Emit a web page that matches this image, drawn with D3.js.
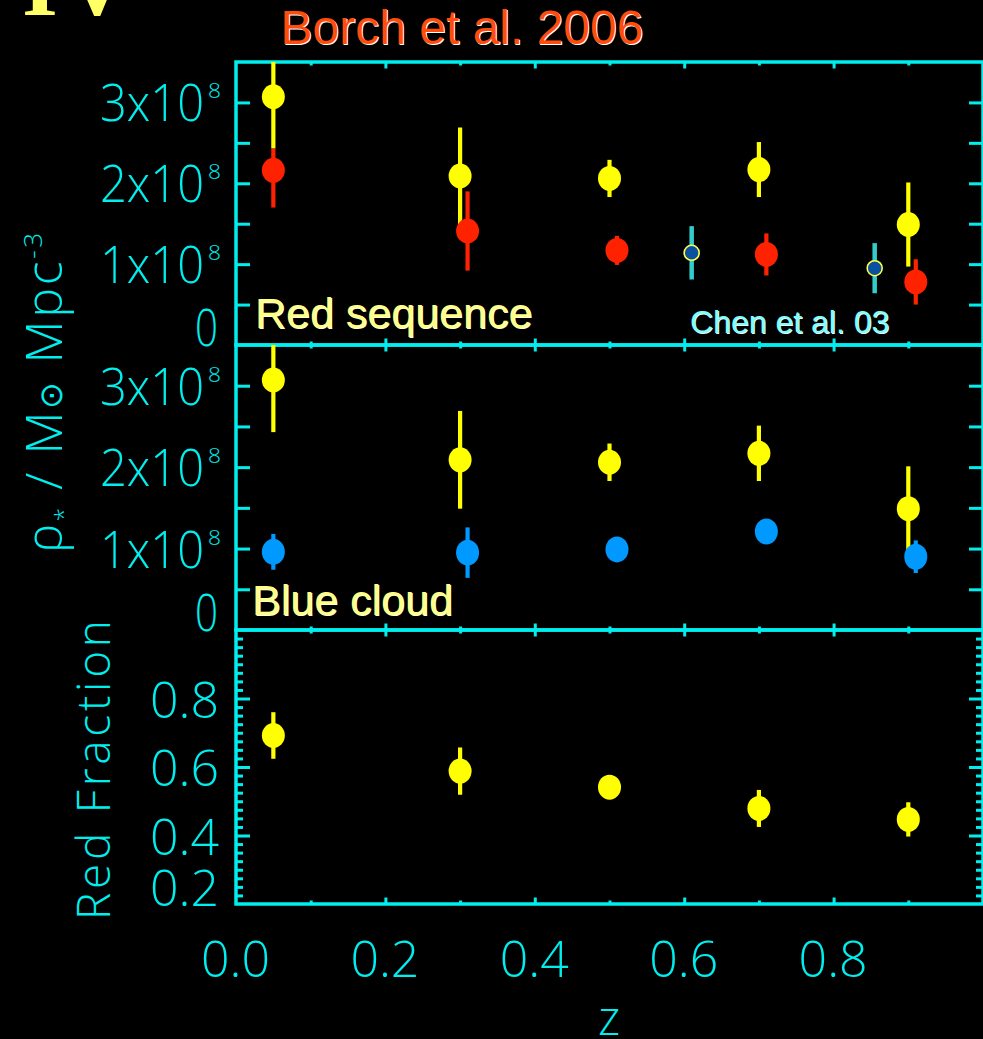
<!DOCTYPE html>
<html>
<head>
<meta charset="utf-8">
<script src="https://cdn.jsdelivr.net/npm/d3@7"></script>
<style>
  body { margin: 0; background: #000; }
  svg { display: block; background: #000; }
</style>
</head>
<body>
<svg id="chart" width="983" height="1039"></svg>
<script>
// ---- data (stellar mass density in units of 1e8 Msun/Mpc^3) ----
const zAll = [0.05, 0.3, 0.5, 0.7, 0.9];
const rhoAll = [3.07, 2.09, 2.06, 2.17, 1.49];
const rhoAllErr = [0.64, 0.60, 0.23, 0.34, 0.52];

const zRed = [0.05, 0.31, 0.51, 0.71, 0.91];
const rhoRed = [2.16, 1.41, 1.17, 1.12, 0.78];
const rhoRedErrLo = [0.46, 0.49, 0.18, 0.26, 0.28];
const rhoRedErrHi = [0.27, 0.49, 0.18, 0.26, 0.28];

const zBlue = [0.05, 0.31, 0.51, 0.71, 0.91];
const rhoBlue = [0.96, 0.95, 0.99, 1.21, 0.90];
const rhoBlueErr = [0.22, 0.31, 0.08, 0.10, 0.20];

const zChen = [0.61, 0.855];
const rhoChen = [1.14, 0.95];
const rhoChenErr = [0.33, 0.31];

const zFrac = [0.05, 0.3, 0.5, 0.7, 0.9];
const redFrac = [0.692, 0.588, 0.541, 0.479, 0.447];
const redFracErr = [0.068, 0.069, 0.02, 0.054, 0.05];

const rhoTickLabels = [0, 1, 2, 3];
const fracTickLabels = [0.2, 0.4, 0.6, 0.8];
const zTickLabels = [0, 0.2, 0.4, 0.6, 0.8];

// ---- setup ----
const CYAN = '#00eeee';
const YELLOW = '#ffff00';
const RED = '#ff2200';
const BLUE = '#0099ff';
const TICKFONT = '"Open Sans", "DejaVu Sans", sans-serif';
const ANNOFONT = '"Liberation Sans", Arial, sans-serif';

const svg = d3.select('#chart');

const x = d3.scaleLinear().domain([0, 1]).range([236, 983]);
const yTop = d3.scaleLinear().domain([0, 3.5]).range([345, 62]);
const yMid = d3.scaleLinear().domain([0, 3.5]).range([630, 345]);
const yBot = d3.scaleLinear().domain([0.2, 1.0]).range([904, 630]);

const panels = [
  { id: 'top', y: yTop, majors: d3.range(0.5, 3.5, 0.5), minors: [], majLen: 14 },
  { id: 'mid', y: yMid, majors: d3.range(0.5, 3.5, 0.5), minors: [], majLen: 14 },
  { id: 'bot', y: yBot, majors: [0.4, 0.6, 0.8], minors: d3.range(0.225, 1.0, 0.025).filter(v => Math.abs(v * 5 - Math.round(v * 5)) > 0.01), majLen: 14 }
];

const defs = svg.append('defs');

function styleTicks(g) {
  g.select('.domain').remove();
  g.selectAll('text').remove();
  g.selectAll('line').attr('stroke', CYAN).attr('stroke-width', 3);
}

panels.forEach(p => {
  const [yb, yt] = p.y.range();
  defs.append('clipPath').attr('id', 'clip-' + p.id)
    .append('rect').attr('x', x(0)).attr('y', yt).attr('width', x(1) - x(0)).attr('height', yb - yt);

  const g = svg.append('g').attr('class', 'frame-' + p.id);
  // y ticks, left and right, pointing inward
  g.append('g').attr('transform', `translate(${x(0)},0)`)
    .call(d3.axisLeft(p.y).tickValues(p.majors).tickSizeInner(-p.majLen).tickSizeOuter(0))
    .call(styleTicks);
  g.append('g').attr('transform', `translate(${x(1)},0)`)
    .call(d3.axisRight(p.y).tickValues(p.majors).tickSizeInner(-p.majLen).tickSizeOuter(0))
    .call(styleTicks);
  if (p.minors.length) {
    g.append('g').attr('transform', `translate(${x(0)},0)`)
      .call(d3.axisLeft(p.y).tickValues(p.minors).tickSizeInner(-7).tickSizeOuter(0))
      .call(styleTicks);
    g.append('g').attr('transform', `translate(${x(1)},0)`)
      .call(d3.axisRight(p.y).tickValues(p.minors).tickSizeInner(-7).tickSizeOuter(0))
      .call(styleTicks);
  }
  // x ticks on top and bottom edge of each panel
  const zMaj = [0.2, 0.4, 0.6, 0.8];
  const zMin = [0.1, 0.3, 0.5, 0.7, 0.9];
  [[zMaj, 6.5], [zMin, 3.5]].forEach(([vals, len]) => {
    g.append('g').attr('transform', `translate(0,${yb})`)
      .call(d3.axisBottom(x).tickValues(vals).tickSizeInner(-len).tickSizeOuter(0))
      .call(styleTicks);
    g.append('g').attr('transform', `translate(0,${yt})`)
      .call(d3.axisTop(x).tickValues(vals).tickSizeInner(-len).tickSizeOuter(0))
      .call(styleTicks);
  });
  g.append('rect')
    .attr('x', x(0)).attr('y', yt).attr('width', x(1) - x(0)).attr('height', yb - yt)
    .attr('fill', 'none').attr('stroke', CYAN).attr('stroke-width', 3.5);
});

// ---- data marks ----
function errorSeries(panelId, yScale, xs, ys, lo, hi, color, rx, ry) {
  const data = xs.map((z, i) => ({ z, v: ys[i], lo: ys[i] - lo[i], hi: ys[i] + hi[i] }));
  const g = svg.append('g').attr('clip-path', `url(#clip-${panelId})`);
  g.selectAll('line').data(data).enter().append('line')
    .attr('x1', d => x(d.z)).attr('x2', d => x(d.z))
    .attr('y1', d => yScale(d.lo)).attr('y2', d => yScale(d.hi))
    .attr('stroke', color).attr('stroke-width', 4.2);
  g.selectAll('ellipse').data(data).enter().append('ellipse')
    .attr('cx', d => x(d.z)).attr('cy', d => yScale(d.v))
    .attr('rx', rx).attr('ry', ry).attr('fill', color);
  return g;
}

// red sequence panel
errorSeries('top', yTop, zAll, rhoAll, rhoAllErr, rhoAllErr, YELLOW, 11.5, 12.5);
errorSeries('top', yTop, zRed, rhoRed, rhoRedErrLo, rhoRedErrHi, RED, 11.5, 12.5);
const chen = svg.append('g').attr('clip-path', 'url(#clip-top)');
const chenData = zChen.map((z, i) => ({ z, v: rhoChen[i], e: rhoChenErr[i] }));
chen.selectAll('line').data(chenData).enter().append('line')
  .attr('x1', d => x(d.z)).attr('x2', d => x(d.z))
  .attr('y1', d => yTop(d.v - d.e)).attr('y2', d => yTop(d.v + d.e))
  .attr('stroke', '#33cccc').attr('stroke-width', 4.5);
chen.selectAll('circle').data(chenData).enter().append('circle')
  .attr('cx', d => x(d.z)).attr('cy', d => yTop(d.v)).attr('r', 7.5)
  .attr('fill', '#0a50a0').attr('stroke', '#ffff44').attr('stroke-width', 1.6);

// blue cloud panel
errorSeries('mid', yMid, zAll, rhoAll, rhoAllErr, rhoAllErr, YELLOW, 11.5, 12.5);
errorSeries('mid', yMid, zBlue, rhoBlue, rhoBlueErr, rhoBlueErr, BLUE, 11.5, 13);

// red fraction panel
errorSeries('bot', yBot, zFrac, redFrac, redFracErr, redFracErr, YELLOW, 11.5, 12.5);

// ---- tick labels ----
function label(x0, y0, str, size, len) {
  return svg.append('text')
    .attr('x', x0).attr('y', y0)
    .attr('font-family', TICKFONT).attr('font-weight', 300)
    .attr('font-size', size).attr('fill', CYAN)
    .attr('textLength', len).attr('lengthAdjust', 'spacingAndGlyphs')
    .text(str);
}

[yTop, yMid].forEach(y => {
  rhoTickLabels.forEach(v => {
    if (v === 0) {
      label(195, y(0) + 1, '0', 51, 23);
    } else {
      label(100, y(v) + 19, v + 'x10', 52, 104);
      label(208, y(v) - 4, '8', 21, 13);
    }
  });
});

fracTickLabels.forEach(v => {
  const base = v === 0.2 ? yBot(v) + 2 : yBot(v) + 19;
  label(150, base, v.toFixed(1), 50, 69);
});

zTickLabels.forEach(v => {
  label(x(v) - 35, 977, v.toFixed(1), 49, 69);
});

// ---- axis titles ----
svg.append('text')
  .attr('x', 609).attr('y', 1035).attr('text-anchor', 'middle')
  .attr('font-family', TICKFONT).attr('font-weight', 300)
  .attr('font-size', 48).attr('fill', CYAN).text('z');

const yt = svg.append('text')
  .attr('transform', 'translate(62,393) rotate(-90)')
  .attr('text-anchor', 'middle')
  .attr('font-family', TICKFONT).attr('font-weight', 300)
  .attr('font-size', 50).attr('fill', CYAN)
  .attr('textLength', 320).attr('lengthAdjust', 'spacing');
yt.append('tspan').text('ρ');
yt.append('tspan').attr('font-size', 24).attr('dy', 10).text('*');
yt.append('tspan').attr('dy', -10).text(' / M');
yt.append('tspan').attr('font-size', 32).attr('font-family', '"DejaVu Sans", sans-serif').text('⊙');
yt.append('tspan').text(' Mpc');
yt.append('tspan').attr('font-size', 26).attr('dy', -20).text('-3');

svg.append('text')
  .attr('transform', 'translate(110,770) rotate(-90)')
  .attr('text-anchor', 'middle')
  .attr('font-family', TICKFONT).attr('font-weight', 300)
  .attr('font-size', 46).attr('fill', CYAN)
  .attr('textLength', 300).attr('lengthAdjust', 'spacing')
  .text('Red Fraction');

// ---- annotations ----
function shadowText(x0, y0, str, size, fill, shade, anchor) {
  [[1, 1, shade], [0, 0, fill]].forEach(([dx, dy, c]) => {
    svg.append('text')
      .attr('x', x0 + dx).attr('y', y0 + dy)
      .attr('text-anchor', anchor || 'start')
      .attr('font-family', ANNOFONT).attr('font-size', size)
      .attr('fill', c).text(str);
  });
}

shadowText(462, 44, 'Borch et al. 2006', 48, '#ff4c0a', '#ffffff', 'middle');
shadowText(255, 328, 'Red sequence', 43, '#ffff88', '#ffffd0');
shadowText(252, 615, 'Blue cloud', 43, '#ffff88', '#ffffd0');
shadowText(690, 333, 'Chen et al. 03', 32, '#7ffcfc', '#e0ffff');

// big slide number, cut off at the top
svg.append('text').attr('x', 22).attr('y', 15)
  .attr('font-family', '"Liberation Serif", serif').attr('font-weight', 'bold')
  .attr('font-size', 92).attr('fill', '#ffff66').text('I');
svg.append('text').attr('x', 97).attr('y', 15).attr('text-anchor', 'middle')
  .attr('font-family', '"Liberation Serif", serif').attr('font-weight', 'bold')
  .attr('font-size', 92).attr('fill', '#ffff66').text('V');
</script>
</body>
</html>
